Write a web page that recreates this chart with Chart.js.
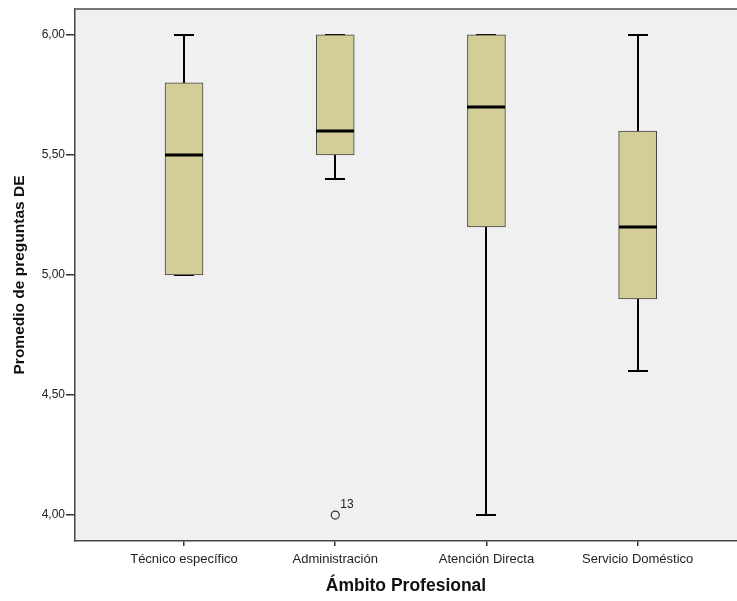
<!DOCTYPE html>
<html>
<head>
<meta charset="utf-8">
<script src="https://cdn.jsdelivr.net/npm/chart.js@4/dist/chart.umd.min.js"></script>
<style>
  html, body { margin: 0; padding: 0; background: #fff; }
  #wrap { width: 737px; height: 601px; }
</style>
</head>
<body>
<div id="wrap"><canvas id="myChart"></canvas></div>
<script>
const categories = ['Técnico específico', 'Administración', 'Atención Directa', 'Servicio Doméstico'];
const whiskerLow = [5.0, 5.4, 4.0, 4.6];
const q1 = [5.0, 5.5, 5.2, 4.9];
const medians = [5.5, 5.6, 5.7, 5.2];
const q3 = [5.8, 6.0, 6.0, 5.6];
const whiskerHigh = [6.0, 6.0, 6.0, 6.0];
const outliers = [{ x: 1, y: 4.0, label: '13' }];
const yTicks = [4.0, 4.5, 5.0, 5.5, 6.0];

const boxFill = '#d3ce97';

const boxplotLines = {
  id: 'boxplotLines',
  beforeDatasetsDraw(chart) {
    const { ctx, scales: { x, y } } = chart;
    ctx.save();
    ctx.strokeStyle = '#000';
    ctx.lineWidth = 2;
    categories.forEach((c, i) => {
      const px = Math.round(x.getPixelForValue(i));
      const lo = y.getPixelForValue(whiskerLow[i]);
      const hi = y.getPixelForValue(whiskerHigh[i]);
      ctx.beginPath();
      ctx.moveTo(px, lo); ctx.lineTo(px, y.getPixelForValue(q1[i]));
      ctx.moveTo(px, hi); ctx.lineTo(px, y.getPixelForValue(q3[i]));
      ctx.moveTo(px - 10, lo); ctx.lineTo(px + 10, lo);
      ctx.moveTo(px - 10, hi); ctx.lineTo(px + 10, hi);
      ctx.stroke();
    });
    ctx.restore();
  },
  afterDatasetsDraw(chart) {
    const { ctx, scales: { x, y }, chartArea } = chart;
    ctx.save();
    ctx.strokeStyle = '#000';
    ctx.lineWidth = 3;
    categories.forEach((c, i) => {
      const px = Math.round(x.getPixelForValue(i));
      const py = y.getPixelForValue(medians[i]);
      ctx.beginPath();
      ctx.moveTo(px - 19, py); ctx.lineTo(px + 19, py);
      ctx.stroke();
    });
    ctx.fillStyle = '#222';
    ctx.font = '12px "Liberation Sans", Arial, sans-serif';
    ctx.textBaseline = 'bottom';
    outliers.forEach(o => {
      ctx.fillText(o.label, x.getPixelForValue(o.x) + 5, y.getPixelForValue(o.y) - 4);
    });
    // top edge of the plot frame (left/bottom come from the axes, right is cut off)
    ctx.strokeStyle = '#777';
    ctx.lineWidth = 2;
    ctx.beginPath();
    ctx.moveTo(chartArea.left, chartArea.top);
    ctx.lineTo(chartArea.right, chartArea.top);
    ctx.stroke();
    ctx.restore();
  }
};

const plotBackground = {
  id: 'plotBackground',
  beforeDraw(chart) {
    const { ctx, chartArea: a } = chart;
    ctx.save();
    ctx.fillStyle = '#f0f0f0';
    ctx.fillRect(a.left, a.top, a.right - a.left, a.bottom - a.top);
    ctx.restore();
  }
};

const family = '"Liberation Sans", Arial, sans-serif';

new Chart(document.getElementById('myChart'), {
  type: 'bar',
  plugins: [plotBackground, boxplotLines],
  data: {
    datasets: [{
      label: 'box',
      data: categories.map((c, i) => ({ x: i, y: [q1[i], q3[i]] })),
      backgroundColor: boxFill,
      borderColor: '#444',
      borderWidth: 1,
      borderSkipped: false,
      barThickness: 38,
      grouped: false
    }, {
      type: 'scatter',
      label: 'outliers',
      data: outliers.map(o => ({ x: o.x, y: o.y })),
      pointStyle: 'circle',
      pointRadius: 4,
      borderColor: '#333',
      borderWidth: 1.2,
      backgroundColor: 'rgba(0,0,0,0)'
    }]
  },
  options: {
    responsive: true,
    maintainAspectRatio: false,
    animation: false,
    events: [],
    layout: { autoPadding: false, padding: { top: 9, left: 0, right: 0, bottom: 0 } },
    plugins: { legend: { display: false }, tooltip: { enabled: false } },
    scales: {
      x: {
        type: 'linear',
        offset: false,
        min: -0.721,
        max: 3.657,
        afterBuildTicks: s => { s.ticks = categories.map((c, i) => ({ value: i })); },
        afterFit: s => { s.height = 60; s.paddingLeft = 0; s.paddingRight = 0; },
        ticks: { callback: v => categories[v], font: { family, size: 13 }, color: '#222', padding: 6, maxRotation: 0, autoSkip: false },
        grid: { offset: false, drawOnChartArea: false, drawTicks: true, tickLength: 5, color: '#333', lineWidth: 1.5 },
        border: { display: true, color: '#444', width: 1.5 },
        title: { display: true, text: 'Ámbito Profesional', color: '#111', font: { family, size: 17.5, weight: 'bold' }, padding: { top: 0, bottom: 4 } }
      },
      y: {
        min: 3.892,
        max: 6.108,
        afterBuildTicks: s => { s.ticks = yTicks.map(v => ({ value: v })); },
        afterFit: s => { s.width = 75; },
        ticks: { callback: v => v.toFixed(2).replace('.', ','), font: { family, size: 12 }, color: '#222', padding: 1 },
        grid: { drawOnChartArea: false, drawTicks: true, tickLength: 9, color: '#333', lineWidth: 1.5 },
        border: { display: true, color: '#444', width: 1.5 },
        title: { display: true, text: 'Promedio de preguntas DE', color: '#111', font: { family, size: 15.5, weight: 'bold' }, padding: { top: 10, bottom: 0 } }
      }
    }
  }
});
</script>
</body>
</html>
